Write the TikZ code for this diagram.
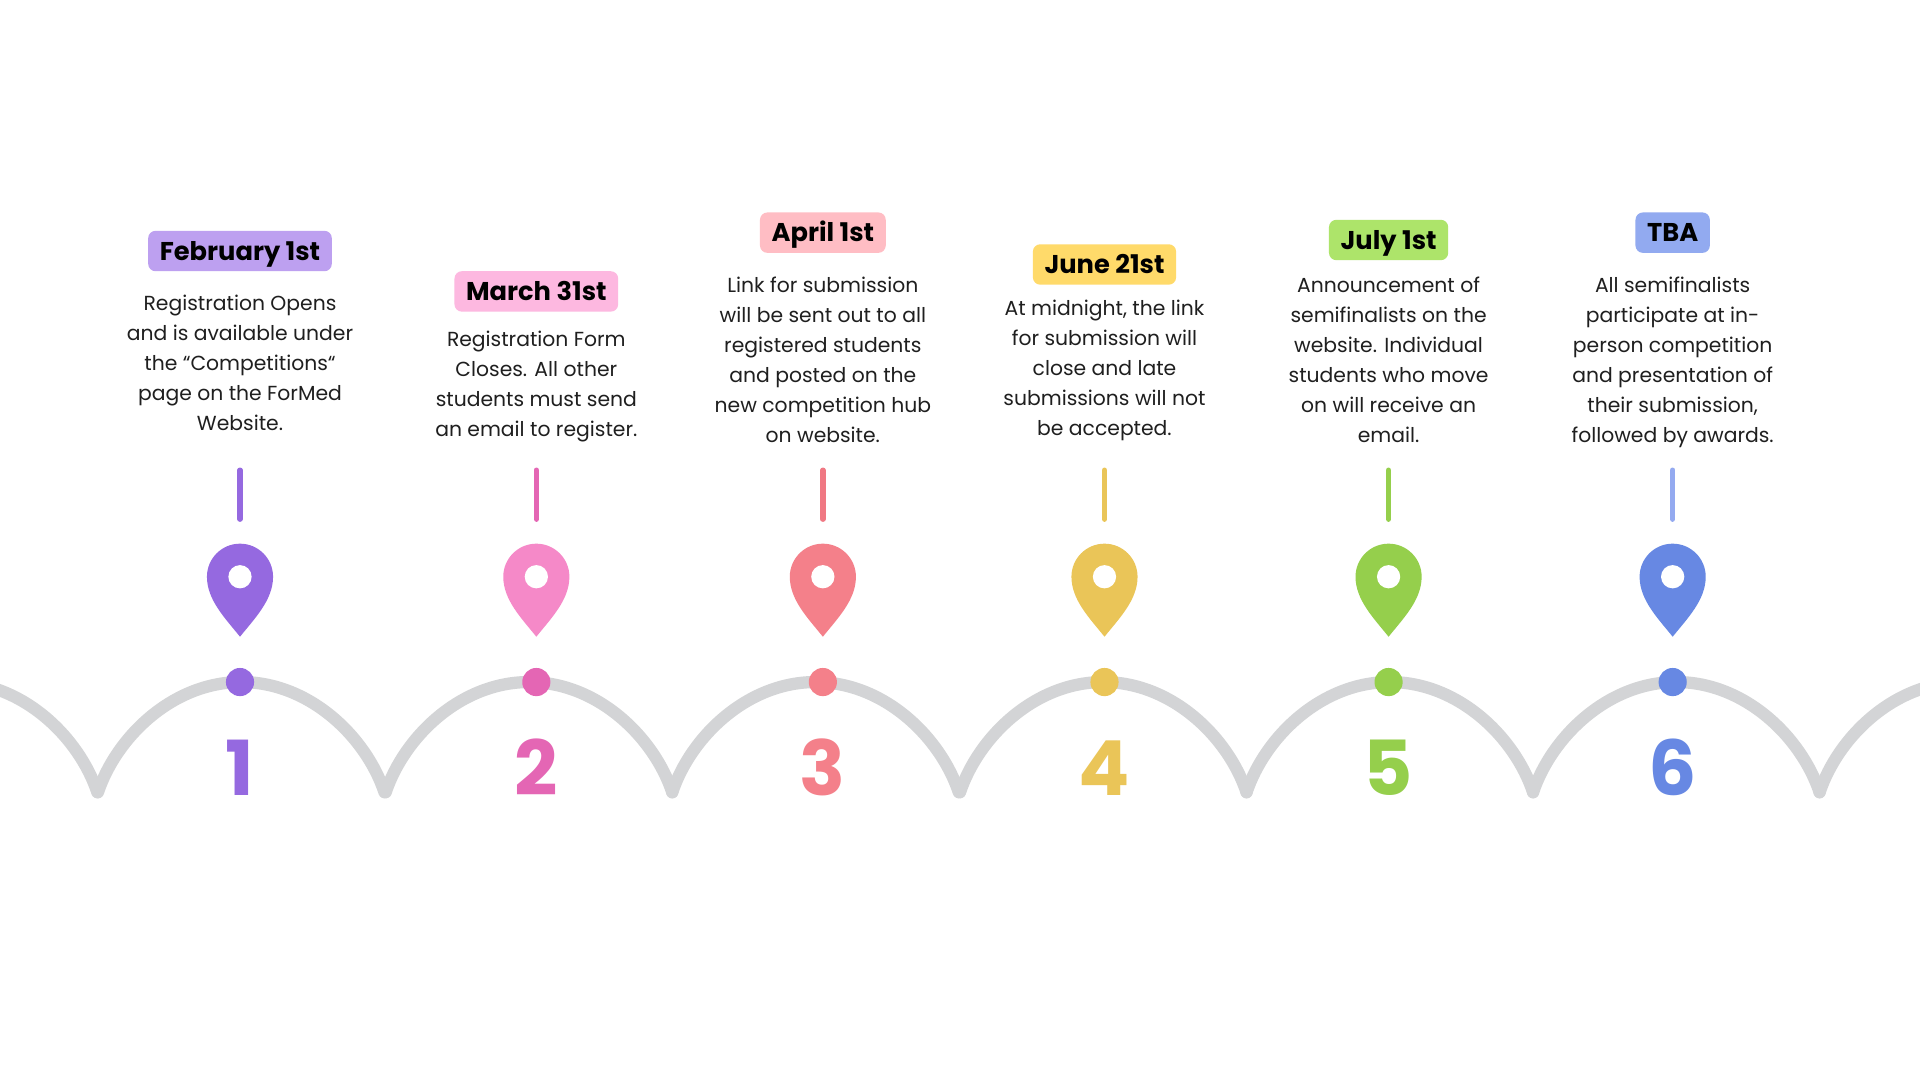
\documentclass[tikz,border=0pt]{standalone}
\usepackage{fontspec}
\setmainfont{Poppins}
\definecolor{pin1}{HTML}{9569E0}\definecolor{acc1}{HTML}{9569E0}\definecolor{line1}{HTML}{9569E0}\definecolor{lab1}{HTML}{BDA0F0}
\definecolor{pin2}{HTML}{F589C8}\definecolor{acc2}{HTML}{E466B4}\definecolor{line2}{HTML}{E466B4}\definecolor{lab2}{HTML}{FDB8E0}
\definecolor{pin3}{HTML}{F4808A}\definecolor{acc3}{HTML}{F4808A}\definecolor{line3}{HTML}{F07883}\definecolor{lab3}{HTML}{FFBDC4}
\definecolor{pin4}{HTML}{EAC558}\definecolor{acc4}{HTML}{EAC558}\definecolor{line4}{HTML}{EAC558}\definecolor{lab4}{HTML}{FFDA6A}
\definecolor{pin5}{HTML}{95CF4C}\definecolor{acc5}{HTML}{95CF4C}\definecolor{line5}{HTML}{95CF4C}\definecolor{lab5}{HTML}{ADE46A}
\definecolor{pin6}{HTML}{6788E3}\definecolor{acc6}{HTML}{6788E3}\definecolor{line6}{HTML}{94AAF0}\definecolor{lab6}{HTML}{92AAF0}
\definecolor{arcgray}{HTML}{D3D4D6}
\definecolor{bodyink}{HTML}{1F1F1F}
\tikzset{
  arcline/.style={draw=arcgray, line width=10, line cap=round, line join=round},
  stem/.style={line width=4.4, line cap=round},
  datebox/.style={rounded corners=6, inner xsep=9.5, inner ysep=0, minimum height=33,
    text height=16, text depth=1,
    font=\fontsize{21}{24}\selectfont\bfseries, text=black},
  bodytext/.style={align=center, inner sep=0, text=bodyink, font=\fontsize{16.6}{24.5}\selectfont},
  dotnode/.style={circle, inner sep=0, minimum size=23},
  numtext/.style={inner sep=0, font=\fontsize{62}{62}\selectfont\bfseries}
}
\newcommand\tlcol[6]{%
  \fill[pin#1] (#2,520) .. controls (#2-12,505) and (#2-27,490) .. (#2-27,471)
     arc[start angle=180, end angle=360, radius=27]
     .. controls (#2+27,490) and (#2+12,505) .. (#2,520) -- cycle;
  \fill[white] (#2,471) circle[radius=9.5];
  \coordinate (stemtop#1) at (#2,384);
  \coordinate (stembot#1) at (#2,424);
  \draw[line#1, stem] (stemtop#1) -- (stembot#1);
  \node[datebox, fill=lab#1] (date#1) at (#2,#3) {#4};
  \node[bodytext, anchor=north] (desc#1) at (#2,#5) {#6};
  \node[dotnode, fill=acc#1] (dot#1) at (#2,557) {};
  \node[numtext, text=acc#1, anchor=base] (num#1) at (#2,650) {#1};
}
\begin{document}
\begin{tikzpicture}[x=1pt,y=-1pt]
\useasboundingbox (0,0) rectangle (1568,882);
\fill[white] (0,0) rectangle (1568,882);
\begin{scope}
  \clip (0,0) rectangle (1568,882);
  \foreach \c in {-154.5,80,315,549,784,1018,1252,1486}{
    \draw[arcline] (\c,647) .. controls (\c+15,602) and (\c+61,557) .. (\c+117,557)
      .. controls (\c+173,557) and (\c+219,602) .. (\c+234,647);
  }
\end{scope}
\tlcol{1}{196}{205}{February 1st}{241}{Registration Opens\\and is available under\\the “Competitions“\\page on the ForMed\\Website.}
\tlcol{2}{438}{238}{March 31st}{270}{Registration Form\\Closes. All other\\students must send\\an email to register.}
\tlcol{3}{672}{190}{April 1st}{226}{Link for submission\\will be sent out to all\\registered students\\and posted on the\\new competition hub\\on website.}
\tlcol{4}{902}{216}{June 21st}{245}{At midnight, the link\\for submission will\\close and late\\submissions will not\\be accepted.}
\tlcol{5}{1134}{196}{July 1st}{226}{Announcement of\\semifinalists on the\\website. Individual\\students who move\\on will receive an\\email.}
\tlcol{6}{1366}{190}{TBA}{226}{All semifinalists\\participate at in-\\person competition\\and presentation of\\their submission,\\followed by awards.}
\end{tikzpicture}
\end{document}
